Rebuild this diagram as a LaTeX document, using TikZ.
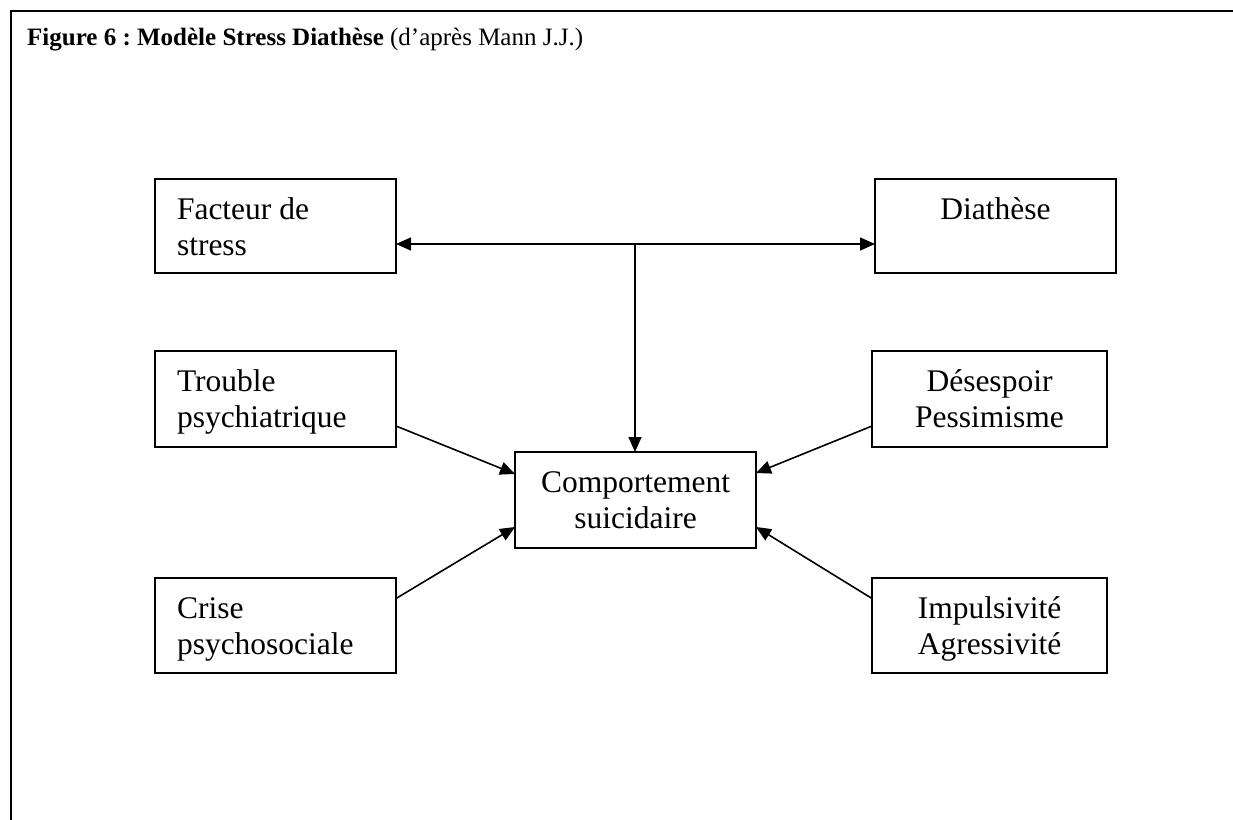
\documentclass[tikz,border=0pt]{standalone}
\usepackage{fontspec}
\setmainfont{Liberation Serif}
\usetikzlibrary{arrows.meta}
\frenchspacing
\newcommand{\lbox}[3]{\parbox[c][#2pt][t]{#1pt}{\raggedright\leftskip=22pt\rule{0pt}{40pt}#3}}
\newcommand{\cbox}[3]{\parbox[c][#2pt][t]{#1pt}{\centering\rule{0pt}{40pt}#3}}
\tikzset{
  boxnode/.style={draw, line width=1.7pt, inner sep=0pt, outer sep=0pt, anchor=north west,
    font=\fontsize{31.5}{36}\selectfont},
  arr/.style={line width=1.6pt, -{Triangle[length=15pt,width=13pt]}},
  dbl/.style={line width=1.6pt, {Triangle[length=15pt,width=13pt]}-{Triangle[length=15pt,width=13pt]}},
  frame/.style={line width=2.4pt}
}
\begin{document}
\begin{tikzpicture}[x=1pt,y=-1pt]
\useasboundingbox (0,0) rectangle (1233,819);
\clip (0,0) rectangle (1233,819);
\draw[frame] (11,830) -- (11,11) -- (1245,11);
\node[anchor=base west, inner sep=0pt, font=\fontsize{25}{30}\selectfont] (title) at (27,45)
  {\textbf{Figure 6 : Modèle Stress Diathèse} (d’après Mann J.J.)};
\node[boxnode] (fs) at (155,179) {\lbox{241}{94}{Facteur de\\stress}};
\node[boxnode] (dia) at (875,179) {\cbox{241}{94}{Diathèse}};
\node[boxnode] (tp) at (155,351) {\lbox{241}{96}{Trouble\\psychiatrique}};
\node[boxnode] (de) at (872,351) {\cbox{235}{96}{Désespoir\\Pessimisme}};
\node[boxnode] (cs) at (515,452) {\cbox{241}{96}{Comportement\\suicidaire}};
\node[boxnode] (cr) at (155,578) {\lbox{241}{95}{Crise\\psychosociale}};
\node[boxnode] (im) at (872,578) {\cbox{235}{95}{Impulsivité\\Agressivité}};
\coordinate (j) at (635,244);
\draw[dbl] (fs.east |- j) -- (dia.west |- j);
\draw[arr] (j) -- (cs.north -| j);
\draw[arr] ([yshift=-27pt]tp.east) -- ([yshift=26pt]cs.west);
\draw[arr] ([yshift=27pt]cr.east) -- ([yshift=-27pt]cs.west);
\draw[arr] ([yshift=-27pt]de.west) -- ([yshift=27pt]cs.east);
\draw[arr] ([yshift=27pt]im.west) -- ([yshift=-27pt]cs.east);
\end{tikzpicture}
\end{document}
